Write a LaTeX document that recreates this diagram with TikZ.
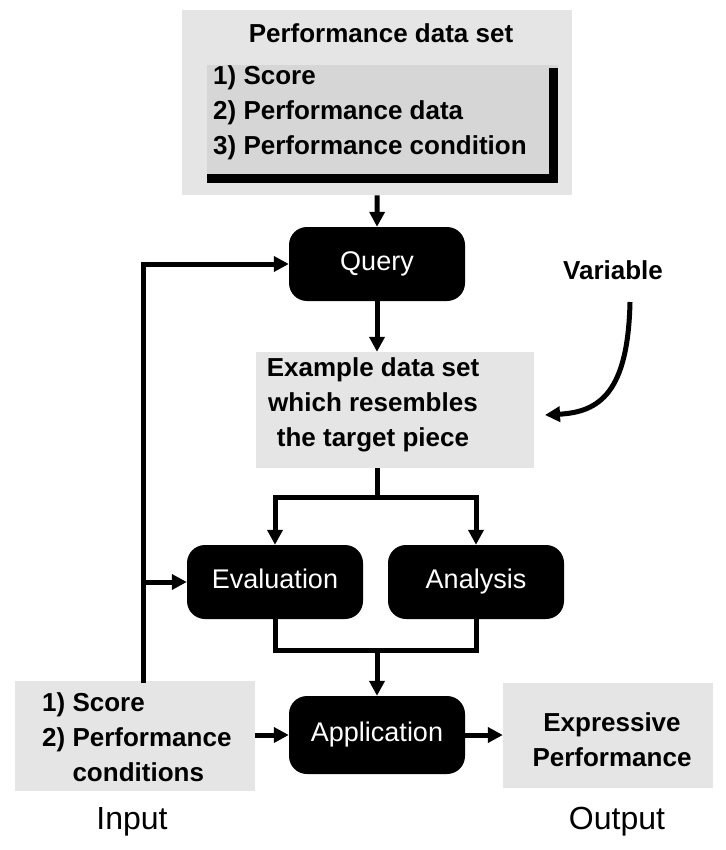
\documentclass[tikz,border=0pt]{standalone}
\usepackage{fontspec}
\setmainfont{Liberation Sans}
\usetikzlibrary{arrows.meta}
\begin{document}
\tikzset{
 stip/.style={fill=black!10, draw=none, inner sep=0pt},
 blk/.style={fill=black, rounded corners=18pt, minimum width=176pt, minimum height=74pt, text=white, text height=19pt, text depth=6pt, font=\fontsize{27}{30}\selectfont},
 lbl/.style={font=\bfseries\fontsize{26}{35}\selectfont, inner sep=0pt},
 big/.style={font=\fontsize{32}{36}\selectfont, inner sep=0pt},
 ln/.style={line width=5pt},
 conn/.style={line width=5pt, -{Triangle[length=15pt,width=15pt]}},
}
\begin{tikzpicture}[x=1pt,y=-1pt]
\useasboundingbox (0,0) rectangle (725,850);
% top data set
\node[stip, minimum width=390pt, minimum height=185pt, anchor=north west] (pds) at (182,10) {};
\fill[black!16] (207,65) rectangle (558,183);
\fill[black] (549,68) rectangle (558,183);
\fill[black] (207,174) rectangle (558,183);
\node[lbl] (pdst) at (381,33) {Performance data set};
\node[lbl, anchor=west, align=left] (pdsl) at (213,113) {1) Score\\2) Performance data\\3) Performance condition};
% query
\node[blk] (q) at (377,264) {Query};
\draw[conn] (pds.south) -- (q.north);
% example
\node[stip, minimum width=278pt, minimum height=116pt] (exbg) at (395,410) {};
\node[lbl, align=center] (ex) at (373,405) {Example data set\\which resembles\\the target piece};
\draw[conn] (q.south) -- (q.south |- exbg.north);
% evaluation / analysis
\node[blk] (ev) at (275,582) {Evaluation};
\node[blk] (an) at (476,582) {Analysis};
\coordinate (sp) at (377,497);
\draw[ln] (q.south |- exbg.south) -- (sp);
\draw[conn] (sp) -| (ev.north);
\draw[conn] (sp) -| (an.north);
% application
\node[blk, minimum height=78pt] (ap) at (377,735) {Application};
\coordinate (jn) at (377,650);
\draw[ln] (ev.south) -- (ev.south |- jn) -- (an.south |- jn) -- (an.south);
\draw[conn] (jn) -- (ap.north);
% input
\node[stip, minimum width=240pt, minimum height=110pt] (inbg) at (135,736) {};
\node[lbl, anchor=west, align=left] (int) at (42,740) {1) Score\\2) Performance\\\phantom{2) }conditions};
\coordinate (lt) at (143,683);
\draw[conn] (lt) |- (q.west);
\draw[conn] (lt |- ev.west) -- (ev.west);
\draw[conn] (inbg.east |- ap.west) -- (ap.west);
% output
\node[stip, minimum width=210pt, minimum height=105pt] (outbg) at (608,735) {};
\node[lbl, align=center] (outt) at (612,740) {Expressive\\Performance};
\draw[conn] (ap.east) -- (outbg.west);
% labels
\node[big] (inl) at (132,822) {Input};
\node[big] (outl) at (617,822) {Output};
\node[lbl] (var) at (613,270) {Variable};
\coordinate (vs) at (630,302);
\coordinate (vt) at (545,415);
\draw[conn] (vs) .. controls (628,392) and (600,412) .. (vt);
\end{tikzpicture}
\end{document}
